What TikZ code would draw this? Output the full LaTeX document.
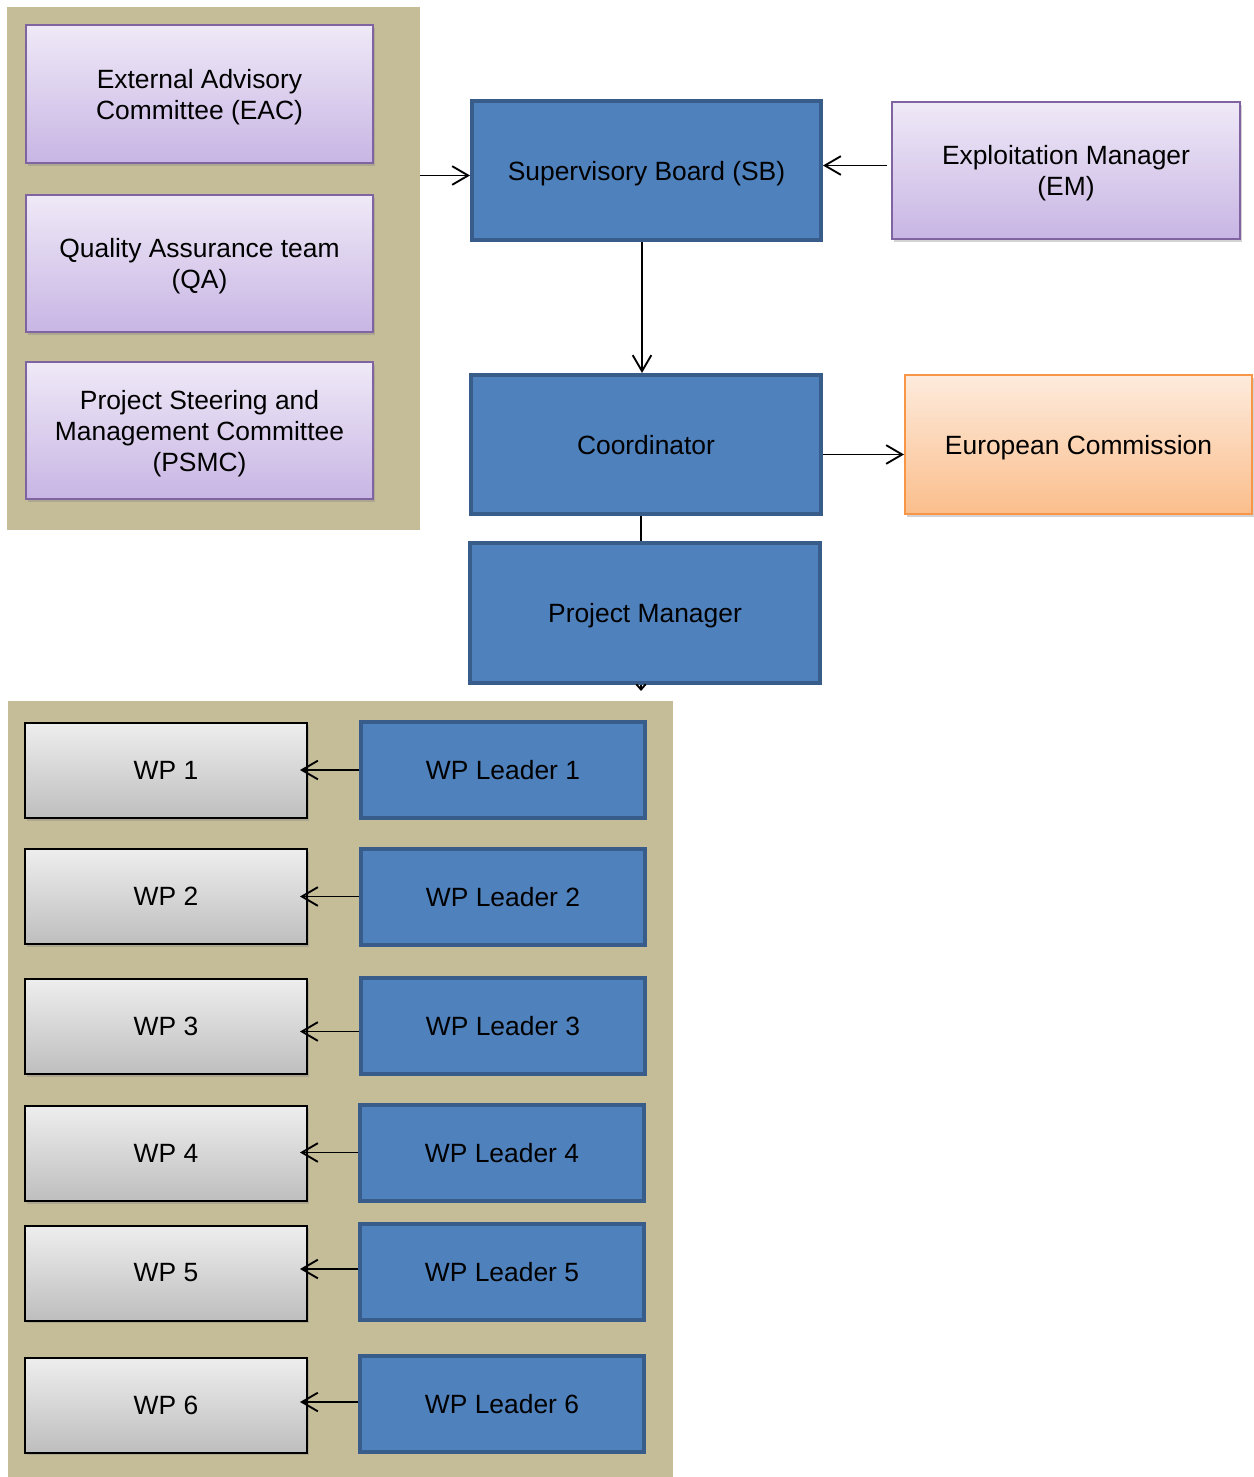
\documentclass[tikz,border=0pt]{standalone}
\usepackage{fontspec}
\setmainfont{Liberation Sans}
\usepackage{tikz}
\usetikzlibrary{arrows.meta,calc,shadows}
\usepackage{xcolor}

\definecolor{panelTan}{RGB}{196,189,151}
\definecolor{boardBlue}{RGB}{79,129,189}
\definecolor{boardEdge}{RGB}{56,93,138}
\definecolor{lilacTop}{RGB}{239,233,247}
\definecolor{lilacBot}{RGB}{200,181,228}
\definecolor{lilacEdge}{RGB}{128,100,162}
\definecolor{peachTop}{RGB}{253,235,220}
\definecolor{peachBot}{RGB}{251,190,140}
\definecolor{peachEdge}{RGB}{247,150,70}
\definecolor{greyTop}{RGB}{238,238,238}
\definecolor{greyBot}{RGB}{190,190,190}

\tikzset{
  boxsize/.style 2 args={minimum width=#1*0.75pt, minimum height=#2*0.75pt},
  softshadow/.style={drop shadow={opacity=0.35, shadow xshift=1.5pt, shadow yshift=-2pt}},
  panel/.style={fill=panelTan, inner sep=0pt},
  board/.style={draw=boardEdge, line width=3pt, fill=boardBlue, align=center, inner sep=0pt, text depth=0pt},
  lilac/.style={draw=lilacEdge, line width=1.5pt, top color=lilacTop, bottom color=lilacBot, softshadow, align=center, inner sep=0pt, text depth=0pt},
  peach/.style={draw=peachEdge, line width=1.5pt, top color=peachTop, bottom color=peachBot, softshadow, align=center, inner sep=0pt, text depth=0pt},
  wpbox/.style={draw=black, line width=1.5pt, top color=greyTop, bottom color=greyBot, softshadow, boxsize={282}{95}, inner sep=0pt},
  leader/.style={board, boxsize={284}{96}},
  arr/.style={-{Straight Barb[length=12pt,width=14pt]}, line width=1.4pt},
}

\begin{document}
\begin{tikzpicture}[x=0.75pt,y=0.75pt,yscale=-1,xscale=1,
  font=\fontsize{19.8}{23.3}\selectfont]
\useasboundingbox (0,0) rectangle (1253,1477);

% Panels
\node[panel, boxsize={413}{523}] (upperpanel) at (213.5,268.5) {};
\node[panel, boxsize={665}{776}] (lowerpanel) at (340.5,1089) {};

% Committees
\node[lilac, boxsize={347}{138}] (eac) at (199.5,94) {External Advisory\\Committee (EAC)};
\node[lilac, boxsize={347}{137}] (qa) at (199.5,263.5) {Quality Assurance team\\(QA)};
\node[lilac, boxsize={347}{137}] (psmc) at (199.5,430.5) {Project Steering and\\Management Committee\\(PSMC)};

% Management
\node[board, boxsize={349}{139}] (sb) at (646.5,170.5) {Supervisory Board (SB)};
\node[lilac, boxsize={348}{137}] (em) at (1066,170.5) {Exploitation Manager\\(EM)};
\node[board, boxsize={350}{139}] (coord) at (646,444.5) {Coordinator};
\node[peach, boxsize={347}{139}] (ec) at (1078.5,444.5) {European Commission};
\node[board, boxsize={350}{140}] (pm) at (645,613) {Project Manager};
\coordinate (pmend) at (641,691);

% Work packages
\node[wpbox] (wp1) at (166,770.5) {WP 1};
\node[leader] (lead1) at (503,770) {WP Leader 1};
\node[wpbox] (wp2) at (166,896.5) {WP 2};
\node[leader] (lead2) at (503,896.5) {WP Leader 2};
\node[wpbox] (wp3) at (166,1026.5) {WP 3};
\node[leader] (lead3) at (503,1025.5) {WP Leader 3};
\node[wpbox] (wp4) at (166,1153.5) {WP 4};
\node[leader] (lead4) at (502,1152.5) {WP Leader 4};
\node[wpbox] (wp5) at (166,1273) {WP 5};
\node[leader] (lead5) at (502,1272) {WP Leader 5};
\node[wpbox] (wp6) at (166,1405) {WP 6};
\node[leader] (lead6) at (502,1404) {WP Leader 6};

% Connectors
\draw[arr] ($(upperpanel.east |- sb.west)+(0,5)$) -- ($(sb.west)+(0,5)$);
\draw[arr] ($(em.west)+(-4,-5)$) -- ($(sb.east)+(0,-5)$);
\draw[arr] (sb.south -| 642,0) -- (coord.north -| 642,0);
\draw[arr] ($(coord.east)+(0,10)$) -- ($(ec.west)+(0,10)$);
\draw[line width=1.4pt] (coord.south -| 641,0) -- (pm.north -| 641,0);
\draw[-{Straight Barb[length=4pt,width=7pt]}, line width=1.4pt] (pm.south -| pmend) -- (pmend);
\draw[arr, shorten >=-6pt] (lead1.west) -- (wp1.east |- lead1.west);
\draw[arr, shorten >=-6pt] (lead2.west) -- (wp2.east |- lead2.west);
\draw[arr, shorten >=-6pt] ($(lead3.west)+(0,6)$) -- ($(wp3.east |- lead3.west)+(0,6)$);
\draw[arr, shorten >=-6pt] (lead4.west) -- (wp4.east |- lead4.west);
\draw[arr, shorten >=-6pt] ($(lead5.west)+(0,-3)$) -- ($(wp5.east |- lead5.west)+(0,-3)$);
\draw[arr, shorten >=-6pt] ($(lead6.west)+(0,-2)$) -- ($(wp6.east |- lead6.west)+(0,-2)$);

\end{tikzpicture}
\end{document}
